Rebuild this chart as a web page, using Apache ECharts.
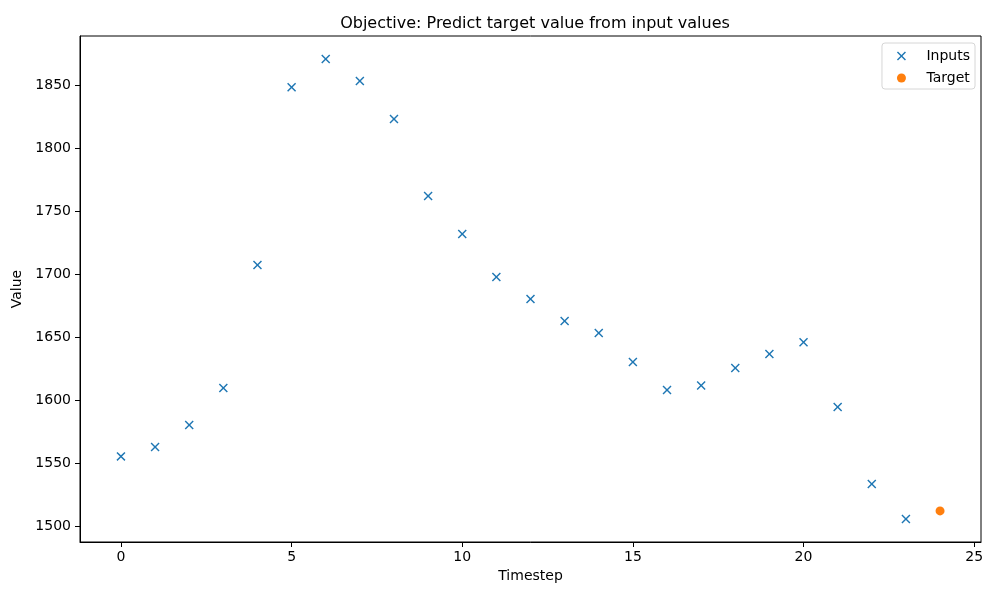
<!DOCTYPE html>
<html>
<head>
<meta charset="utf-8">
<title>Objective: Predict target value from input values</title>
<script src="https://cdn.jsdelivr.net/npm/echarts@6/dist/echarts.min.js"></script>
<style>
  html, body { margin: 0; padding: 0; background: #fff; }
  #main { width: 1000px; height: 600px; }
</style>
</head>
<body>
<div id="main"></div>
<script>
// data
var inputSteps = [0, 1, 2, 3, 4, 5, 6, 7, 8, 9, 10, 11, 12, 13, 14, 15, 16, 17, 18, 19, 20, 21, 22, 23];
var inputValues = [1555.8, 1563.3, 1580.7, 1610.0, 1707.7, 1848.7, 1871.2, 1853.7, 1823.6, 1762.5,
                   1732.3, 1698.2, 1680.7, 1663.3, 1653.7, 1630.7, 1608.5, 1612.1, 1626.0, 1637.1,
                   1646.3, 1595.0, 1533.9, 1506.1];
var targetSteps = [24];
var targetValues = [1512.5];
var xTicks = [0, 5, 10, 15, 20, 25];
var yTicks = [1500, 1550, 1600, 1650, 1700, 1750, 1800, 1850];

function pairs(xs, ys) {
  var out = [];
  for (var i = 0; i < xs.length; i++) out.push([xs[i], ys[i]]);
  return out;
}

// matplotlib style 5% margins
var allX = inputSteps.concat(targetSteps);
var allY = inputValues.concat(targetValues);
var xMin = Math.min.apply(null, allX), xMax = Math.max.apply(null, allX);
var yMin = Math.min.apply(null, allY), yMax = Math.max.apply(null, allY);
var xPad = (xMax - xMin) * 0.05, yPad = (yMax - yMin) * 0.05;

var crossPath = 'path://M11.3,0L50,38.7L88.7,0L100,11.3L61.3,50L100,88.7L88.7,100L50,61.3L11.3,100L0,88.7L38.7,50L0,11.3Z';
var font = 'DejaVu Sans';

var myChart = echarts.init(document.getElementById('main'));

var option = {
  animation: false,
  backgroundColor: '#fff',
  textStyle: { fontFamily: font },
  title: {
    text: 'Objective: Predict target value from input values',
    left: 530,
    textAlign: 'center',
    top: 11,
    textStyle: { fontFamily: font, fontSize: 16, fontWeight: 'normal', color: '#000' }
  },
  legend: {
    orient: 'vertical',
    right: 25,
    top: 43,
    padding: [6, 5, 4, 15],
    itemWidth: 30,
    itemHeight: 9,
    itemGap: 8,
    borderColor: '#d6d6d6',
    borderWidth: 1,
    borderRadius: 3,
    backgroundColor: 'rgba(255,255,255,0.8)',
    textStyle: { fontFamily: font, fontSize: 14, color: '#000', padding: [0, 0, 0, 5] },
    data: [
      { name: 'Inputs', icon: crossPath, itemStyle: { color: '#1f77b4' } },
      { name: 'Target', icon: 'circle', itemStyle: { color: '#ff7f0e' } }
    ]
  },
  grid: {
    left: 80, right: 19, top: 36, bottom: 58,
    outerBoundsMode: 'none',
    containLabel: false,
    show: true, borderColor: '#000', borderWidth: 1, backgroundColor: 'transparent'
  },
  xAxis: {
    type: 'value',
    min: xMin - xPad,
    max: xMax + xPad,
    name: 'Timestep',
    nameLocation: 'middle',
    nameGap: 27,
    nameTextStyle: { fontFamily: font, fontSize: 14, color: '#000' },
    splitLine: { show: false },
    axisLine: { show: true, onZero: false, lineStyle: { color: '#000', width: 1 } },
    axisTick: { show: true, inside: false, length: 5, lineStyle: { color: '#000' }, customValues: xTicks },
    axisLabel: { margin: 8, fontFamily: font, fontSize: 14, color: '#000', customValues: xTicks,
                 formatter: function (v) { return String(v); } }
  },
  yAxis: {
    type: 'value',
    min: yMin - yPad,
    max: yMax + yPad,
    name: 'Value',
    nameLocation: 'middle',
    nameGap: 54,
    nameRotate: 90,
    nameTextStyle: { fontFamily: font, fontSize: 14, color: '#000' },
    splitLine: { show: false },
    axisLine: { show: true, onZero: false, lineStyle: { color: '#000', width: 1 } },
    axisTick: { show: true, inside: false, length: 5, lineStyle: { color: '#000' }, customValues: yTicks },
    axisLabel: { margin: 9, fontFamily: font, fontSize: 14, color: '#000', customValues: yTicks,
                 formatter: function (v) { return String(v); } }
  },
  series: [
    {
      name: 'Inputs',
      type: 'scatter',
      symbol: crossPath,
      symbolSize: 9,
      itemStyle: { color: '#1f77b4', opacity: 1 },
      data: pairs(inputSteps, inputValues)
    },
    {
      name: 'Target',
      type: 'scatter',
      symbol: 'circle',
      symbolSize: 9,
      itemStyle: { color: '#ff7f0e', opacity: 1 },
      data: pairs(targetSteps, targetValues)
    }
  ]
};

myChart.setOption(option);
</script>
</body>
</html>
